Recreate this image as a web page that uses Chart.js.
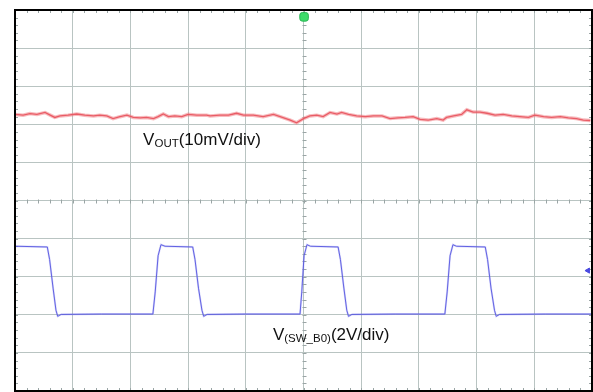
<!DOCTYPE html>
<html><head><meta charset="utf-8">
<script src="https://cdn.jsdelivr.net/npm/chart.js@4"></script>
<style>html,body{margin:0;padding:0;background:#fff}canvas{display:block}</style>
</head><body>
<div style="width:593px;height:392px"><canvas id="c" width="593" height="392"></canvas></div>
<script>
// Grid divisions (oscilloscope screen, 10 x 10 divisions)
const divTicks = [0,1,2,3,4,5,6,7,8,9,10];

// V_OUT trace (divisions)
const voutX = [0.00,0.14,0.26,0.38,0.52,0.61,0.69,0.78,0.92,1.07,1.21,1.36,1.47,1.59,1.70,1.82,1.94,2.05,2.17,2.28,2.40,2.48,2.57,2.66,2.77,2.89,3.00,3.15,3.32,3.38,3.55,3.70,3.84,3.96,4.13,4.30,4.48,4.62,4.77,4.88,5.00,5.11,5.23,5.34,5.46,5.58,5.66,5.78,5.92,6.07,6.21,6.36,6.50,6.64,6.76,6.90,7.02,7.16,7.31,7.42,7.48,7.60,7.74,7.83,7.94,8.06,8.18,8.32,8.46,8.61,8.75,8.90,9.01,9.16,9.30,9.45,9.59,9.73,9.85,9.97];
const voutY = [7.26,7.24,7.28,7.26,7.31,7.24,7.18,7.22,7.24,7.27,7.24,7.22,7.24,7.22,7.15,7.20,7.24,7.18,7.17,7.18,7.15,7.20,7.27,7.20,7.22,7.20,7.26,7.24,7.24,7.22,7.24,7.24,7.29,7.24,7.24,7.20,7.26,7.19,7.11,7.04,7.15,7.22,7.24,7.20,7.31,7.27,7.31,7.26,7.22,7.20,7.22,7.22,7.15,7.17,7.18,7.20,7.13,7.11,7.15,7.11,7.18,7.22,7.26,7.38,7.32,7.32,7.29,7.24,7.26,7.22,7.20,7.18,7.24,7.20,7.18,7.20,7.17,7.15,7.11,7.10];

// V(SW_B0) trace (divisions)
const swX = [0,0.56,0.60,0.66,0.71,0.74,0.80,1.5,2.39,2.43,2.48,2.53,2.60,3.08,3.12,3.18,3.24,3.27,3.33,4.0,4.94,4.97,5.01,5.06,5.12,5.60,5.64,5.70,5.75,5.78,5.84,6.6,7.45,7.49,7.54,7.59,7.65,8.15,8.19,8.25,8.31,8.34,8.40,9.2,10];
const swY = [3.80,3.78,3.45,2.70,2.12,1.96,2.01,2.02,2.02,2.60,3.55,3.84,3.80,3.78,3.45,2.70,2.12,1.96,2.01,2.02,2.02,2.60,3.55,3.84,3.80,3.78,3.45,2.70,2.12,1.96,2.01,2.02,2.02,2.60,3.55,3.84,3.80,3.78,3.45,2.70,2.12,1.96,2.01,2.02,2.02];

// markers
const trigX = [5.01], trigY = [9.82];
const gndX = [9.93], gndY = [3.16];

// trace labels
const labelMain = ['V','V'];
const labelSub = ['OUT','(SW_B0)'];
const labelTail = ['(10mV/div)','(2V/div)'];

const pts = (xs, ys) => xs.map((x,i)=>({x, y: ys[i]}));

const deco = {
  id: 'deco',
  beforeDatasetsDraw(chart) {
    const {ctx, chartArea: a, scales: {x, y}} = chart;
    ctx.save();
    ctx.strokeStyle = '#9aa5a5';
    ctx.lineWidth = 1;
    const cx = Math.round(x.getPixelForValue(5)) + 0.5, cy = Math.round(y.getPixelForValue(5)) + 0.5;
    ctx.beginPath();
    for (let k = 1; k < 50; k++) {
      const v = k * 0.2;
      const px = Math.round(x.getPixelForValue(v)) + 0.5;
      const py = Math.round(y.getPixelForValue(v)) + 0.5;
      ctx.moveTo(px, cy - 2); ctx.lineTo(px, cy + 2);
      ctx.moveTo(cx - 2, py); ctx.lineTo(cx + 2, py);
      ctx.moveTo(px, a.top); ctx.lineTo(px, a.top + 3);
      ctx.moveTo(px, a.bottom - 3); ctx.lineTo(px, a.bottom);
      ctx.moveTo(a.left, py); ctx.lineTo(a.left + 3, py);
      ctx.moveTo(a.right - 3, py); ctx.lineTo(a.right, py);
    }
    ctx.stroke();
    ctx.restore();
  },
  afterDraw(chart, args, opts) {
    const {ctx, chartArea: a, scales: {x, y}} = chart;
    ctx.save();
    ctx.strokeStyle = '#000';
    ctx.lineWidth = 2;
    ctx.strokeRect(a.left, a.top, a.right - a.left, a.bottom - a.top);
    ctx.fillStyle = '#111';
    ctx.textBaseline = 'alphabetic';
    opts.pos.forEach((p, i) => {
      let px = x.getPixelForValue(p[0]);
      const py = y.getPixelForValue(p[1]);
      ctx.font = '17px "Liberation Sans", Arial, sans-serif';
      ctx.fillText(labelMain[i], px, py);
      px += ctx.measureText(labelMain[i]).width;
      ctx.font = '11.5px "Liberation Sans", Arial, sans-serif';
      ctx.fillText(labelSub[i], px, py + 2);
      px += ctx.measureText(labelSub[i]).width;
      ctx.font = '17px "Liberation Sans", Arial, sans-serif';
      ctx.fillText(labelTail[i], px, py);
    });
    ctx.restore();
  }
};

new Chart(document.getElementById('c'), {
  type: 'scatter',
  data: {
    datasets: [
      {data: pts(voutX, voutY), showLine: true, borderColor: 'rgba(240,120,125,0.5)', borderWidth: 3.5, pointRadius: 0, tension: 0},
      {data: pts(voutX, voutY), showLine: true, borderColor: 'rgba(225,45,60,0.9)', borderWidth: 1.3, pointRadius: 0, tension: 0},
      {data: pts(swX, swY), showLine: true, borderColor: 'rgba(140,140,240,0.35)', borderWidth: 2, pointRadius: 0, tension: 0},
      {data: pts(swX, swY), showLine: true, borderColor: 'rgba(55,55,215,0.9)', borderWidth: 1, pointRadius: 0, tension: 0},
      {data: pts(trigX, trigY), pointStyle: 'rectRounded', pointRadius: 5, backgroundColor: '#3ddc6a', borderColor: '#2cb656', borderWidth: 1},
      {data: pts(gndX, gndY), pointStyle: 'triangle', pointRotation: 270, pointRadius: 3, backgroundColor: '#4a4ae0', borderColor: '#4a4ae0', borderWidth: 1}
    ]
  },
  options: {
    responsive: false,
    animation: false,
    devicePixelRatio: 1,
    layout: {autoPadding: false, padding: {left: 15, top: 10, right: 1, bottom: 1}},
    plugins: {legend: {display: false}, tooltip: {enabled: false},
      deco: {pos: [[2.22, 6.45], [4.47, 1.34]]}},
    scales: {
      x: {type: 'linear', min: 0, max: 10,
        afterBuildTicks: s => { s.ticks = divTicks.map(v => ({value: v})); },
        ticks: {display: false}, border: {display: false},
        grid: {color: '#b9c4c2', lineWidth: 1, drawTicks: false, tickLength: 0}},
      y: {type: 'linear', min: 0, max: 10,
        afterBuildTicks: s => { s.ticks = divTicks.map(v => ({value: v})); },
        ticks: {display: false}, border: {display: false},
        grid: {color: '#b9c4c2', lineWidth: 1, drawTicks: false, tickLength: 0}}
    }
  },
  plugins: [deco]
});
</script>
</body></html>
